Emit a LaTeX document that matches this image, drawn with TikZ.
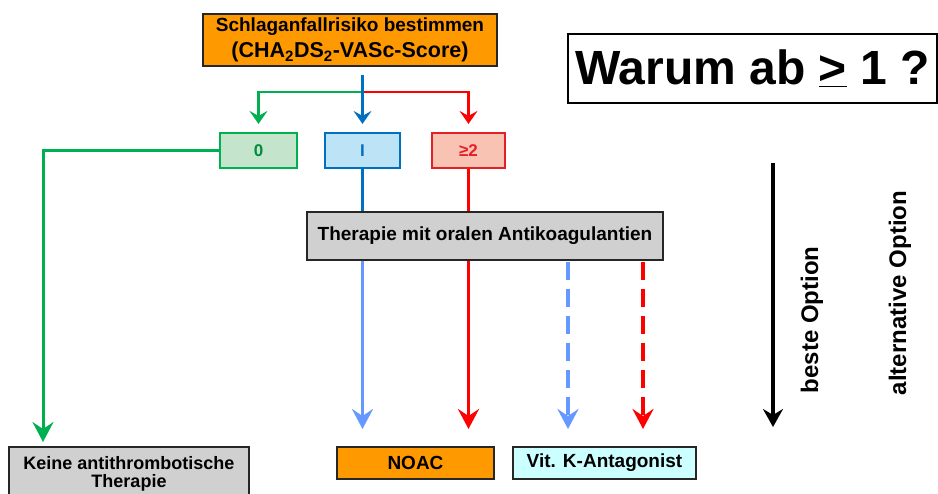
\documentclass[tikz,border=0pt]{standalone}
\usepackage{fontspec}
\setmainfont{Liberation Sans}
\usetikzlibrary{arrows.meta}
\definecolor{orng}{HTML}{FF9900}
\definecolor{gbox}{HTML}{D0D0D0}
\definecolor{cyanbox}{HTML}{CCFFFF}
\definecolor{grn}{HTML}{00B050}
\definecolor{grnfill}{HTML}{C4E5CB}
\definecolor{dblue}{HTML}{0070C0}
\definecolor{bluefill}{HTML}{BDE3F7}
\definecolor{lblue}{HTML}{6699FF}
\definecolor{rd}{HTML}{FF0000}
\definecolor{rdbox}{HTML}{E42027}
\definecolor{rdfill}{HTML}{F9C3B4}
\tikzset{
  mainbox/.style={draw=black!85, line width=1.2pt, inner sep=0pt, align=center,
    font=\bfseries\fontsize{19}{18}\selectfont},
  scorebox/.style={line width=2.2pt, inner sep=0pt, minimum height=35pt,
    font=\bfseries\fontsize{17}{17}\selectfont},
  conn/.style={line width=3.5pt, -{Stealth[length=20pt,width=21pt,inset=7pt]}},
  smallconn/.style={line width=3pt, -{Stealth[length=13pt,width=18pt,inset=5pt]}},
  plainline/.style={line width=3.5pt},
  dashline/.style={conn, dash pattern=on 18pt off 9pt},
  sidetext/.style={rotate=90, inner sep=0pt, font=\bfseries\fontsize{24}{24}\selectfont}
}
\begin{document}
\begin{tikzpicture}[x=1pt,y=-1pt]
\useasboundingbox (0,0) rectangle (938,494);
\clip (0,0) rectangle (938,494);

% boxes
\node[mainbox, fill=orng, minimum width=294pt, minimum height=52pt] (top) at (350,40)
  {Schlaganfallrisiko bestimmen\\[6pt]
   {\fontsize{21.5}{21.5}\selectfont (CHA\textsubscript{2}DS\textsubscript{2}-VASc-Score)}};
\node[scorebox, draw=grn, fill=grnfill, text=grn!80!black, minimum width=77pt] (b0) at (258.5,150.5) {0};
\node[scorebox, draw=dblue, fill=bluefill, text=dblue, minimum width=75pt] (b1) at (362.5,150.5) {I};
\node[scorebox, draw=rdbox, fill=rdfill, text=rdbox, minimum width=73pt] (b2) at (468.5,150.5) {≥2};
\node[mainbox, fill=gbox, minimum width=356pt, minimum height=48pt] (ther) at (485,236)
  {Therapie mit oralen Antikoagulantien};
\node[mainbox, fill=gbox, minimum width=240pt, minimum height=62pt] (keine) at (129,478) {};
\node[inner sep=0pt, align=center, font=\bfseries\fontsize{18}{18}\selectfont, anchor=center]
  (keinetext) at (129,474) {Keine antithrombotische\\Therapie};
\node[mainbox, fill=orng, minimum width=157pt, minimum height=32pt] (noac) at (415.5,463) {NOAC};
\node[mainbox, fill=cyanbox, minimum width=183pt, minimum height=32pt] (vitk) at (604.5,463) {Vit. K-Antagonist};
\node[draw=black, line width=2pt, inner sep=0pt, minimum width=369pt, minimum height=69pt,
  font=\bfseries\fontsize{48}{48}\selectfont] (warum) at (752.5,68.5) {Warum ab \underline{>} 1 ?};

% coordinates
\coordinate (bstart) at (362.5,75);
\coordinate (split) at (362.5,92);
\coordinate (gend) at (43,442);
\coordinate (t1) at (362.5,429);
\coordinate (t2) at (468.5,429);
\coordinate (t3) at (568,429);
\coordinate (t4) at (643,429);
\coordinate (s3) at (568,262);
\coordinate (s4) at (643,262);
\coordinate (kstart) at (773,163);
\coordinate (kend) at (773,427);

% top connectors
\draw[smallconn, grn, line width=2.4pt, shorten >=8pt] (split) -| (b0.north);
\draw[smallconn, rd, line width=2.4pt, shorten >=8pt] (split) -| (b2.north);
\draw[smallconn, dblue, line width=3.5pt, shorten >=8pt] (bstart) -- (b1.north);
\draw[conn, grn, line width=3pt] (b0.west) -| (gend);

% middle
\draw[plainline, dblue] (b1.south) -- (b1.south |- ther.north);
\draw[plainline, rd] (b2.south) -- (b2.south |- ther.north);

% lower
\draw[conn, lblue] (ther.south -| t1) -- (t1);
\draw[conn, rd] (ther.south -| t2) -- (t2);
\draw[dashline, lblue] (s3) -- (t3);
\draw[dashline, rd] (s4) -- (t4);

% right side
\draw[conn, black, -{Stealth[length=18pt,width=20pt,inset=6pt]}] (kstart) -- (kend);
\node[sidetext] (beste) at (812,320) {beste Option};
\node[sidetext] (alt) at (900,293) {alternative Option};
\end{tikzpicture}
\end{document}
